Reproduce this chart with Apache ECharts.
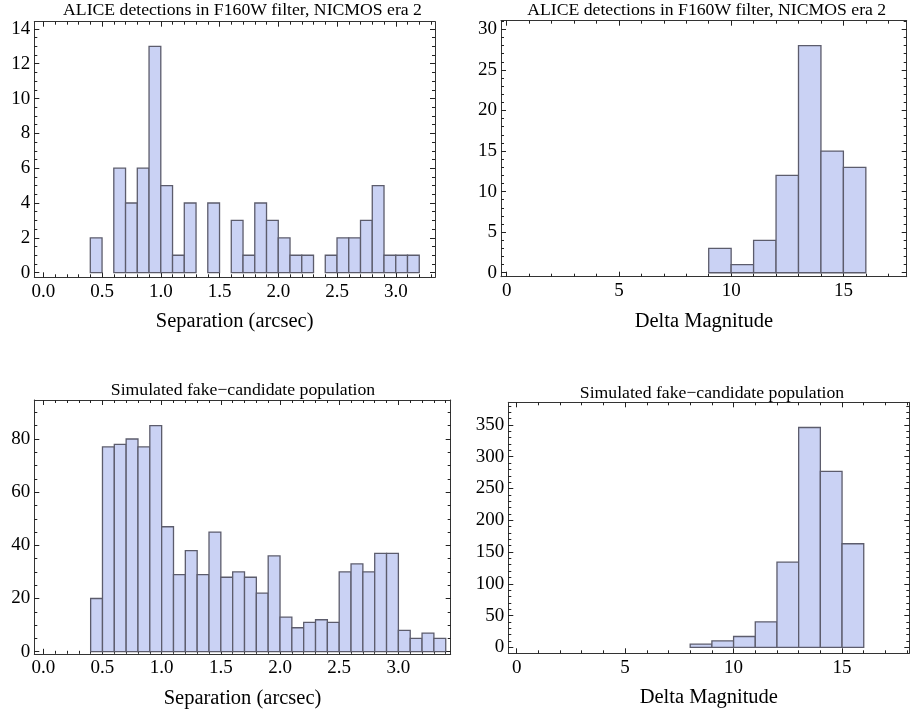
<!DOCTYPE html>
<html>
<head>
<meta charset="utf-8">
<script src="https://cdn.jsdelivr.net/npm/echarts@6/dist/echarts.min.js"></script>
<style>
html,body{margin:0;padding:0;background:#fff;}
#chart{width:910px;height:710px;}
</style>
</head>
<body>
<div id="chart"></div>
<script>
// ---------------- DATA ----------------
const titleAlice = 'ALICE detections in F160W filter, NICMOS era 2';
const titleSim = 'Simulated fake\u2212candidate population';
const nameSep = 'Separation (arcsec)';
const nameDmag = 'Delta Magnitude';

// separation histograms (bin start, width 0.1)
const sepBinWidth = 0.1;
const sepStartsAlice = [0.4,0.5,0.6,0.7,0.8,0.9,1.0,1.1,1.2,1.3,1.4,1.5,1.6,1.7,1.8,1.9,2.0,2.1,2.2,2.3,2.4,2.5,2.6,2.7,2.8,2.9,3.0,3.1];
const sepCountsAlice = [2,0,6,4,6,13,5,1,4,0,4,0,3,1,4,3,2,1,1,0,1,2,2,3,5,1,1,1];
const sepStartsSim = [0.4,0.5,0.6,0.7,0.8,0.9,1.0,1.1,1.2,1.3,1.4,1.5,1.6,1.7,1.8,1.9,2.0,2.1,2.2,2.3,2.4,2.5,2.6,2.7,2.8,2.9,3.0,3.1,3.2,3.3];
const sepCountsSim = [20,77,78,80,77,85,47,29,38,29,45,28,30,28,22,36,13,9,11,12,11,30,33,30,37,37,8,5,7,5];

// delta magnitude histograms (bin start, width 1)
const dmagBinWidth = 1;
const dmagStartsAlice = [9,10,11,12,13,14,15];
const dmagCountsAlice = [3,1,4,12,28,15,13];
const dmagStartsSim = [8,9,10,11,12,13,14,15];
const dmagCountsSim = [5,10,17,40,134,346,277,163];

// tick labels
const sepTicks = [0.0,0.5,1.0,1.5,2.0,2.5,3.0];
const dmagTicks = [0,5,10,15];
const yTicksSepAlice = [0,2,4,6,8,10,12,14];
const yTicksDmagAlice = [0,5,10,15,20,25,30];
const yTicksSepSim = [0,20,40,60,80];
const yTicksDmagSim = [0,50,100,150,200,250,300,350];

// ---------------- BUILD ----------------
function minorTicks(lo, hi, step){
  const out = [];
  const k0 = Math.ceil(lo/step - 1e-9), k1 = Math.floor(hi/step + 1e-9);
  for (let k = k0; k <= k1; k++) out.push(Math.round(k*step*1e6)/1e6);
  return out;
}
const FONT = 'Liberation Serif, Times New Roman, serif';
const FILL = '#cad2f4';
const EDGE = '#5c5c6c';
const FRAME = '#333';

const panels = [
  {grid:{left:34.3, top:21.7, width:400.7, height:255.6},
   x:[-0.0767,3.334], y:[-0.268,14.415],
   xMaj:sepTicks, xMinStep:0.1, yMaj:yTicksSepAlice, yMinStep:0.5, xFmt:1,
   starts:sepStartsAlice, counts:sepCountsAlice, w:sepBinWidth,
   title:titleAlice, tx:242.5, ty:10, xname:nameSep},
  {grid:{left:501, top:20.7, width:405.7, height:256},
   x:[-0.252,17.82], y:[-0.49,31.07],
   xMaj:dmagTicks, xMinStep:1, yMaj:yTicksDmagAlice, yMinStep:1, xFmt:0,
   starts:dmagStartsAlice, counts:dmagCountsAlice, w:dmagBinWidth,
   title:titleAlice, tx:706.7, ty:10, xname:nameDmag},
  {grid:{left:34.3, top:400, width:416.4, height:253.8},
   x:[-0.076,3.442], y:[-0.8,94.67],
   xMaj:sepTicks, xMinStep:0.1, yMaj:yTicksSepSim, yMinStep:5, xFmt:1,
   starts:sepStartsSim, counts:sepCountsSim, w:sepBinWidth,
   title:titleSim, tx:243, ty:390, xname:nameSep},
  {grid:{left:508.3, top:402.3, width:401, height:251},
   x:[-0.385,18.1], y:[-9.45,385.7],
   xMaj:dmagTicks, xMinStep:1, yMaj:yTicksDmagSim, yMinStep:10, xFmt:0,
   starts:dmagStartsSim, counts:dmagCountsSim, w:dmagBinWidth,
   title:titleSim, tx:712, ty:393, xname:nameDmag}
];

const option = {
  animation:false,
  backgroundColor:'#fff',
  title:[], grid:[], xAxis:[], yAxis:[], series:[]
};

function axisBase(dim, gi, pos, range, ticks, len, showLine, labels, fmt){
  const a = {
    type:'value', gridIndex:gi, position:pos, min:range[0], max:range[1],
    splitLine:{show:false},
    axisLine:{show:showLine, onZero:false, lineStyle:{color:FRAME, width:1}},
    axisTick:{show:true, inside:true, length:len, customValues:ticks, lineStyle:{color:'#222', width:1}},
    axisLabel:{show:!!labels}
  };
  if (labels){
    a.axisLabel = {show:true, customValues:labels, fontFamily:FONT, fontSize:19, color:'#000',
      margin: dim==='x' ? 5 : 4,
      formatter: v => (fmt ? Number(v).toFixed(fmt) : String(Math.round(v)))};
  }
  return a;
}

panels.forEach((p, i) => {
  option.grid.push(Object.assign({containLabel:false}, p.grid));
  const xMinor = minorTicks(p.x[0], p.x[1], p.xMinStep);
  const yMinor = minorTicks(p.y[0], p.y[1], p.yMinStep);
  const xb = axisBase('x', i, 'bottom', p.x, p.xMaj, 5, true, p.xMaj, p.xFmt);
  xb.name = p.xname; xb.nameLocation = 'middle'; xb.nameGap = 34;
  xb.nameTextStyle = {fontFamily:FONT, fontSize:20.5, color:'#000'};
  option.xAxis.push(xb);
  option.xAxis.push(axisBase('x', i, 'bottom', p.x, xMinor, 3, false));
  option.xAxis.push(axisBase('x', i, 'top', p.x, p.xMaj, 5, true));
  option.xAxis.push(axisBase('x', i, 'top', p.x, xMinor, 3, false));
  option.yAxis.push(axisBase('y', i, 'left', p.y, p.yMaj, 5, true, p.yMaj, 0));
  option.yAxis.push(axisBase('y', i, 'left', p.y, yMinor, 3, false));
  option.yAxis.push(axisBase('y', i, 'right', p.y, p.yMaj, 5, true));
  option.yAxis.push(axisBase('y', i, 'right', p.y, yMinor, 3, false));

  option.title.push({text:p.title, left:p.tx, top:p.ty, textAlign:'center', textVerticalAlign:'middle', padding:0,
    textStyle:{fontFamily:FONT, fontSize:17.7, fontWeight:'normal', color:'#000'}});

  const data = [];
  p.starts.forEach((s, k) => { if (p.counts[k] > 0) data.push([s, s + p.w, p.counts[k]]); });
  option.series.push({
    type:'custom', xAxisIndex:4*i, yAxisIndex:4*i, clip:false,
    encode:{x:[0,1], y:2},
    data:data,
    renderItem:function(params, api){
      const a = api.coord([api.value(0), api.value(2)]);
      const b = api.coord([api.value(1), 0]);
      return {type:'rect', shape:{x:a[0], y:a[1], width:b[0]-a[0], height:b[1]-a[1]},
        style:{fill:FILL, stroke:EDGE, lineWidth:1.3}};
    }
  });
});

const chart = echarts.init(document.getElementById('chart'), null, {renderer:'canvas'});
chart.setOption(option);
</script>
</body>
</html>
